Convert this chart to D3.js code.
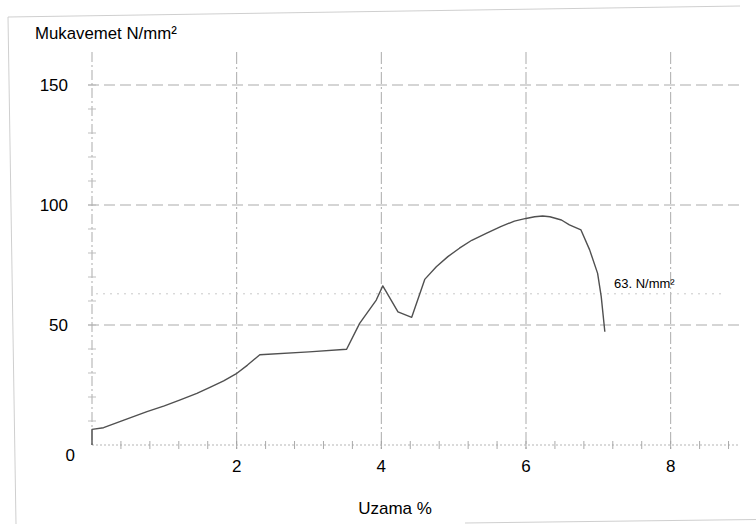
<!DOCTYPE html>
<html>
<head>
<meta charset="utf-8">
<script src="https://cdn.jsdelivr.net/npm/d3@7"></script>
<style>
  body { margin: 0; background: #fff; }
  svg { display: block; font-family: "Liberation Sans", Arial, sans-serif; }
</style>
</head>
<body>
<svg id="chart" width="756" height="524"></svg>
<script>
// tensile test curve
const elongation = [0, 0, 0.16, 0.45, 0.76, 1.0, 1.22, 1.45, 1.63, 1.82, 1.99, 2.15, 2.32, 3.0, 3.52,
    3.70, 3.93, 4.02, 4.23, 4.42, 4.60, 4.76, 4.92, 5.08, 5.25, 5.45, 5.65, 5.84, 6.0, 6.12, 6.23,
    6.33, 6.49, 6.60, 6.76, 6.88, 6.99, 7.04, 7.09];
const strength = [0, 6.5, 7.2, 10.5, 13.9, 16.3, 18.8, 21.5, 24, 26.7, 29.6, 33.3, 37.6, 38.8, 39.9,
    50.7, 60.4, 66.3, 55.5, 53.2, 69, 74.3, 78.5, 82, 85.3, 88.2, 91, 93.3, 94.4, 95.1, 95.4,
    95.1, 93.75, 91.7, 89.6, 81.3, 71.5, 61.8, 47.2];
const xTicks = [2, 4, 6, 8];
const yTicks = [0, 50, 100, 150];
const refValue = 63;
const refLabel = "63. N/mm²";

const svg = d3.select("#chart");

const x = d3.scaleLinear().domain([0, 9]).range([92, 743]);
const y = d3.scaleLinear().domain([0, 150]).range([445, 85]);

// scanned page edges
svg.append("path")
    .attr("d", "M8,17 L740,6 M8,17 L16,524 M465,523 L756,519.5")
    .attr("fill", "none").attr("stroke", "#cfcfcf").attr("stroke-width", 1);

const grid = svg.append("g").attr("stroke", "#a2a2a2").attr("fill", "none").attr("stroke-width", 0.9);

// horizontal dashed grid
grid.selectAll("line.h").data(yTicks.filter(d => d > 0)).join("line")
    .attr("x1", 88).attr("x2", 740)
    .attr("y1", d => y(d)).attr("y2", d => y(d))
    .attr("stroke-dasharray", "11,5");

// vertical dashed grid
grid.selectAll("line.v").data(xTicks).join("line")
    .attr("x1", d => x(d)).attr("x2", d => x(d))
    .attr("y1", 52).attr("y2", 452)
    .attr("stroke-dasharray", "12,3,2,3");

// y axis line + minor ticks
grid.append("line")
    .attr("x1", x(0)).attr("x2", x(0)).attr("y1", 52).attr("y2", y(0))
    .attr("stroke-dasharray", "10,3,2,3");
grid.selectAll("line.yt").data(d3.range(10, 160, 10)).join("line")
    .attr("x1", x(0) - 4).attr("x2", x(0) + 4)
    .attr("y1", d => y(d)).attr("y2", d => y(d))
    .attr("stroke", "#b8b8b8");

// x axis dotted + minor ticks
grid.append("line")
    .attr("x1", x(0)).attr("x2", 740).attr("y1", y(0)).attr("y2", y(0))
    .attr("stroke", "#adadad").attr("stroke-dasharray", "2,2");
grid.selectAll("line.xt").data(d3.range(0.4, 9, 0.4)).join("line")
    .attr("x1", d => x(d)).attr("x2", d => x(d))
    .attr("y1", y(0) - 4).attr("y2", y(0) + 4)
    .attr("stroke", "#a0a0a0");

// reference line at 63
grid.append("line")
    .attr("x1", 96).attr("x2", 722).attr("y1", y(refValue)).attr("y2", y(refValue))
    .attr("stroke", "#c4c4c4").attr("stroke-dasharray", "2,5");

// curve
const pts = elongation.map((d, i) => [d, strength[i]]);
svg.append("path")
    .datum(pts)
    .attr("fill", "none")
    .attr("stroke", "#505050")
    .attr("stroke-width", 1.4)
    .attr("stroke-linejoin", "round")
    .attr("d", d3.line().x(d => x(d[0])).y(d => y(d[1])));

// labels
const txt = svg.append("g").attr("fill", "#000");

txt.selectAll("text.y").data(yTicks).join("text")
    .attr("x", d => d === 0 ? 75 : 68).attr("y", d => y(d) + (d === 0 ? 10 : 0))
    .attr("dy", "0.35em").attr("text-anchor", "end")
    .attr("font-size", 17)
    .text(d => d);

txt.selectAll("text.x").data(xTicks).join("text")
    .attr("x", d => x(d)).attr("y", 472)
    .attr("text-anchor", "middle")
    .attr("font-size", 17)
    .text(d => d);

txt.append("text")
    .attr("x", 35).attr("y", 39)
    .attr("font-size", 16.8)
    .text("Mukavemet N/mm²");

txt.append("text")
    .attr("x", 395).attr("y", 514)
    .attr("text-anchor", "middle")
    .attr("font-size", 17)
    .text("Uzama %");

txt.append("text")
    .attr("x", 614).attr("y", 288)
    .attr("font-size", 13)
    .text(refLabel);
</script>
</body>
</html>
